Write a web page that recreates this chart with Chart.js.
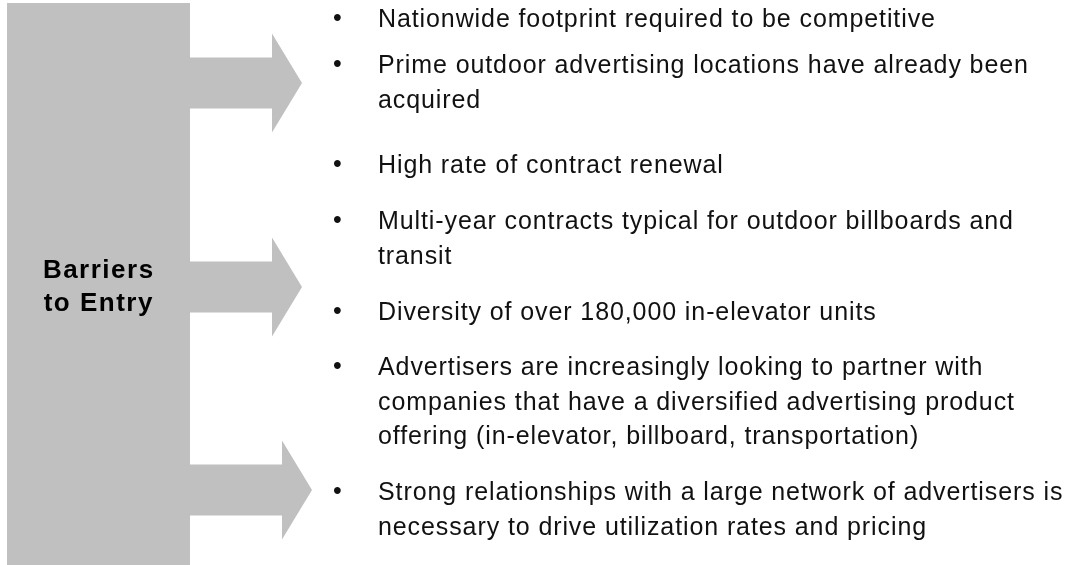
<!DOCTYPE html>
<html><head><meta http-equiv="Content-Type" content="text/html; charset=UTF-8">
  <title>Barriers to Entry</title>
  <script src="https://cdn.jsdelivr.net/npm/chart.js@4"></script>
  <style>
  html, body { margin: 0; padding: 0; background: #fff; }
  canvas { display: block; }
  </style>
</head>
<body>
  <canvas id="barriers" width="1067" height="565"></canvas>
  <script>
    // content
    var heading = ['Barriers', 'to Entry'];
    var bullets = [
      ['Nationwide footprint required to be competitive'],
      ['Prime outdoor advertising locations have already been', 'acquired'],
      ['High rate of contract renewal'],
      ['Multi-year contracts typical for outdoor billboards and', 'transit'],
      ['Diversity of over 180,000 in-elevator units'],
      ['Advertisers are increasingly looking to partner with',
       'companies that have a diversified advertising product',
       'offering (in-elevator, billboard, transportation)'],
      ['Strong relationships with a large network of advertisers is',
       'necessary to drive utilization rates and pricing']
    ];
    // rows (in page units) the three arrows point at
    var arrowRows = [83, 287, 490];

    // layout, in scale units (x 0..1067, y 0..565 top-down)
    var layout = {
      column: { x0: 7, x1: 190, y0: 3 },
      arrowHeadX: [272, 272, 282],
      arrowTip: 30, shaftHalf: 25.5, headHalf: 49.5,
      headingX: 98, headingY: [278, 311],
      bulletX: 333, textX: 378,
      firstBaseline: [27, 73, 173, 229, 320, 375, 500],
      lineHeight: 34.5
    };
    var grey = '#c0c0c0';

    var diagram = {
      id: 'diagram',
      beforeDatasetsDraw: function(chart) {
        var ctx = chart.ctx, sx = chart.scales.x, sy = chart.scales.y;
        var px = function(v) { return sx.getPixelForValue(v); };
        var py = function(v) { return sy.getPixelForValue(v); };
        ctx.save();
        ctx.fillStyle = grey;
        // the vertical column
        ctx.fillRect(px(layout.column.x0), py(layout.column.y0),
          px(layout.column.x1) - px(layout.column.x0), py(565) - py(layout.column.y0));
        // arrows
        arrowRows.forEach(function(row, i) {
          var hx = layout.arrowHeadX[i];
          ctx.beginPath();
          ctx.moveTo(px(layout.column.x1 - 1), py(row - layout.shaftHalf));
          ctx.lineTo(px(hx), py(row - layout.shaftHalf));
          ctx.lineTo(px(hx), py(row - layout.headHalf));
          ctx.lineTo(px(hx + layout.arrowTip), py(row));
          ctx.lineTo(px(hx), py(row + layout.headHalf));
          ctx.lineTo(px(hx), py(row + layout.shaftHalf));
          ctx.lineTo(px(layout.column.x1 - 1), py(row + layout.shaftHalf));
          ctx.closePath();
          ctx.fill();
        });
        // heading
        ctx.fillStyle = '#000';
        ctx.font = 'bold 26px "Liberation Sans", Arial, sans-serif';
        ctx.letterSpacing = '1.5px';
        ctx.textAlign = 'left';
        ctx.textBaseline = 'alphabetic';
        heading.forEach(function(t, i) {
          var w = ctx.measureText(t).width - 1.5;
          ctx.fillText(t, px(layout.headingX) - w / 2, py(layout.headingY[i]));
        });
        // bullet list
        ctx.fillStyle = '#111';
        ctx.font = '25px "Liberation Sans", Arial, sans-serif';
        ctx.letterSpacing = '0.9px';
        bullets.forEach(function(lines, i) {
          var base = layout.firstBaseline[i];
          ctx.fillText('\u2022', px(layout.bulletX), py(base - 1));
          lines.forEach(function(t, j) {
            ctx.fillText(t, px(layout.textX), py(base + j * layout.lineHeight));
          });
        });
        ctx.restore();
      }
    };

    new Chart(document.getElementById('barriers'), {
      type: 'scatter',
      data: { datasets: [{ data: [], showLine: false }] },
      options: {
        responsive: false,
        animation: false,
        devicePixelRatio: 1,
        layout: { padding: 0 },
        plugins: { legend: { display: false }, tooltip: { enabled: false } },
        scales: {
          x: { type: 'linear', min: 0, max: 1067, display: false },
          y: { type: 'linear', min: 0, max: 565, reverse: true, display: false }
        }
      },
      plugins: [diagram]
    });
  </script>
</body></html>
